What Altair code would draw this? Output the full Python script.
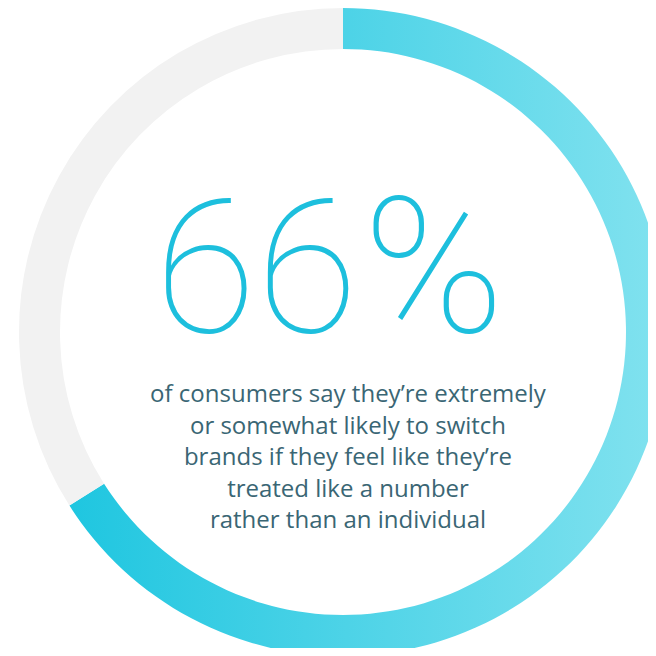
import altair as alt
import pandas as pd

# Data
categories = ["likely to switch", "other"]
values = [66, 34]
headline_value = 66
caption_lines = [
    "of consumers say they’re extremely",
    "or somewhat likely to switch",
    "brands if they feel like they’re",
    "treated like a number",
    "rather than an individual",
]

df = pd.DataFrame({"category": categories, "value": values, "order": [0, 1]})

W, H = 640, 640
CX, CY = 335, 324
R_OUT, R_IN = 324, 283

grad = alt.LinearGradient(
    gradient="linear",
    x1=0, y1=0, x2=1, y2=0,
    stops=[
        alt.GradientStop(color="#1fc6e0", offset=0),
        alt.GradientStop(color="#82e2ef", offset=1),
    ],
)

ring = alt.Chart(df).mark_arc(
    outerRadius=R_OUT, innerRadius=R_IN, strokeWidth=0
).encode(
    theta=alt.Theta("value:Q", stack=True, scale=alt.Scale(domain=[0, 100])),
    order=alt.Order("order:Q"),
    color=alt.condition(
        alt.datum.category == categories[0],
        alt.value(grad),
        alt.value("#f2f2f2"),
    ),
    x=alt.value(CX),
    y=alt.value(CY),
)

num_df = pd.DataFrame({"label": [f"{headline_value}"]})
number = alt.Chart(num_df).mark_text(
    font="Roboto", fontWeight=100, fontSize=186, color="#1dbfdd",
    align="right", baseline="alphabetic",
).encode(
    text="label:N",
    x=alt.value(350),
    y=alt.value(324),
)

pct_df = pd.DataFrame({"label": ["%"]})
pct = alt.Chart(pct_df).mark_text(
    font="Roboto", fontWeight=100, fontSize=190, color="#1dbfdd",
    align="left", baseline="alphabetic",
).encode(
    text="label:N",
    x=alt.value(355),
    y=alt.value(324),
)

caption_df = pd.DataFrame({"label": [caption_lines]})
caption = alt.Chart(caption_df).mark_text(
    font="Open Sans", fontWeight=400, fontSize=24, color="#3a6674",
    align="center", baseline="alphabetic", lineHeight=31.5,
).encode(
    text="label",
    x=alt.value(340),
    y=alt.value(394),
)

chart = alt.layer(ring, number, pct, caption).properties(
    width=W, height=H, padding=0, autosize="none",
    background="white",
).configure_view(stroke=None)

chart.save("out.html", embed_options={"renderer": "svg", "actions": False})
